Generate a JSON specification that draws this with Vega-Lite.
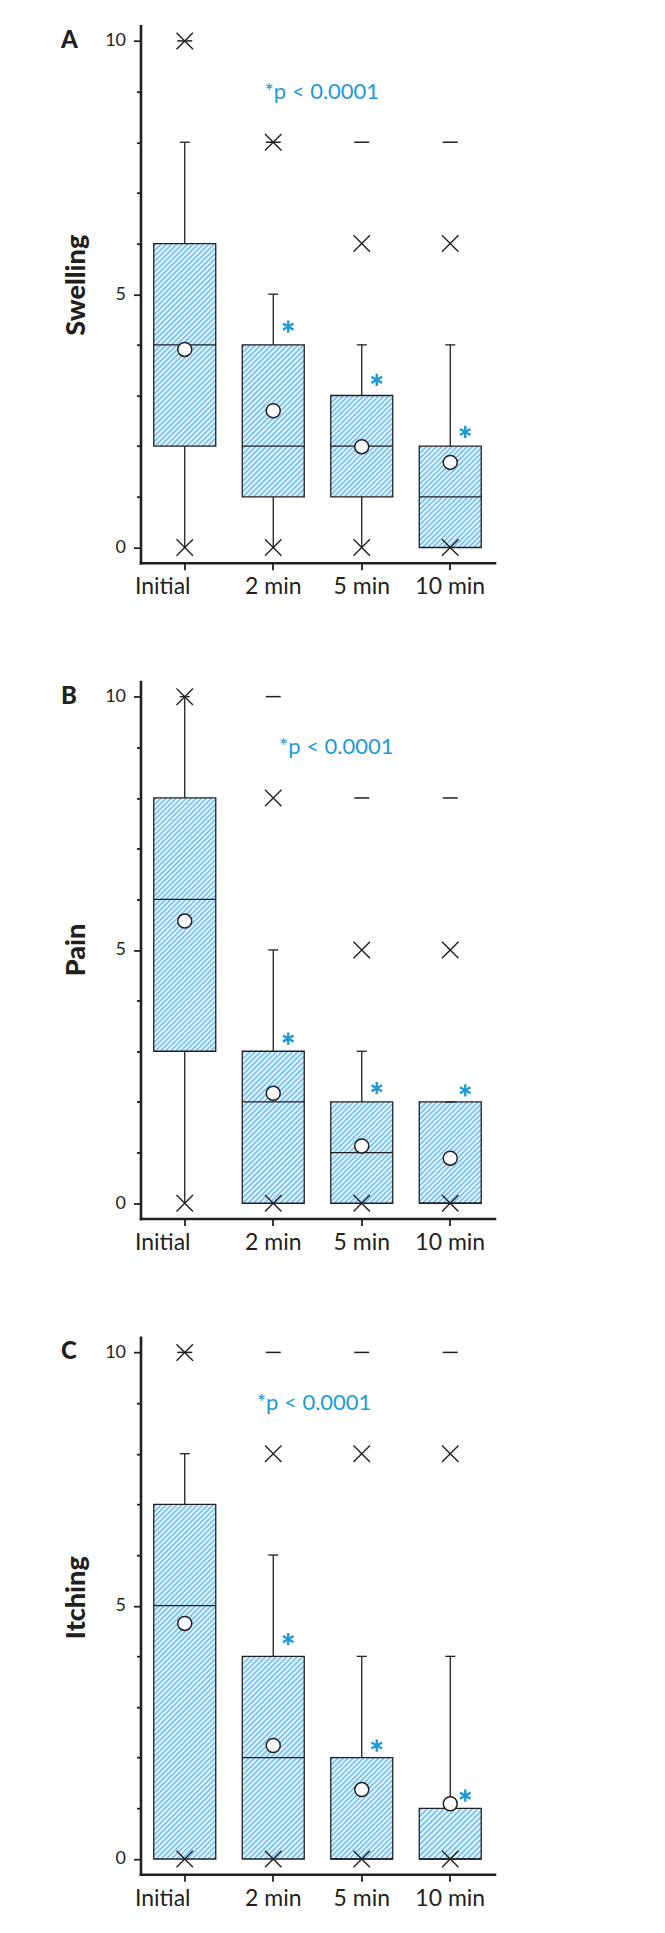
{
"background": "white",
"padding": {"left": 60.5, "top": 25.7, "right": 5, "bottom": 5},
"spacing": 118.75,
"bounds": "flush",
"config": {
 "font": "Lato",
 "view": {"stroke": null},
 "axis": {"domainColor": "#231f20", "tickColor": "#231f20", "labelColor": "#231f20", "titleColor": "#231f20", "grid": false, "domainWidth": 2.6, "tickWidth": 1.8, "labelFont": "Lato", "titleFont": "Lato", "domainCap": "square"},
 "axisX": {"tickSize": 7, "labelFontSize": 23, "labelPadding": 6, "labelAngle": 0},
 "axisY": {"labelFontSize": 18, "labelPadding": 8, "titleFontSize": 27, "titleFontWeight": 900, "titleBaseline": "alphabetic", "titleAngle": 270, "titleAlign": "center"}
},
"vconcat": [
 {
  "width": 354, "height": 537,
  "data": {"values": [
   {"time":"Initial","kind":"whisker","v":0,"v2":8},
   {"time":"2 min","kind":"whisker","v":0,"v2":5},
   {"time":"5 min","kind":"whisker","v":0,"v2":4},
   {"time":"10 min","kind":"whisker","v":0,"v2":4},
   {"time":"Initial","kind":"box","v":2,"v2":6},
   {"time":"2 min","kind":"box","v":1,"v2":4},
   {"time":"5 min","kind":"box","v":1,"v2":3},
   {"time":"10 min","kind":"box","v":0,"v2":2},
   {"time":"Initial","kind":"median","v":4},
   {"time":"2 min","kind":"median","v":2},
   {"time":"5 min","kind":"median","v":2},
   {"time":"10 min","kind":"median","v":1},
   {"time":"Initial","kind":"mean","v":3.91},
   {"time":"2 min","kind":"mean","v":2.7},
   {"time":"5 min","kind":"mean","v":1.99},
   {"time":"10 min","kind":"mean","v":1.68},
   {"time":"Initial","kind":"cap","v":8},
   {"time":"2 min","kind":"cap","v":5},
   {"time":"5 min","kind":"cap","v":4},
   {"time":"10 min","kind":"cap","v":4},
   {"time":"Initial","kind":"x","v":0},
   {"time":"Initial","kind":"x","v":10},
   {"time":"2 min","kind":"x","v":0},
   {"time":"2 min","kind":"x","v":8},
   {"time":"5 min","kind":"x","v":0},
   {"time":"5 min","kind":"x","v":6},
   {"time":"10 min","kind":"x","v":0},
   {"time":"10 min","kind":"x","v":6},
   {"time":"Initial","kind":"dash","v":10},
   {"time":"2 min","kind":"dash","v":8},
   {"time":"5 min","kind":"dash","v":8},
   {"time":"10 min","kind":"dash","v":8},
   {"time":"2 min","kind":"star","v":4.36},
   {"time":"5 min","kind":"star","v":3.31},
   {"time":"10 min","kind":"star","v":2.28},
   {"time":"2 min","kind":"ptext","v":9,"label":"*p < 0.0001"},
   {"time":"Initial","kind":"letter","v":10,"label":"A"}
  ]},
  "encoding": {
   "x": {"field": "time", "type": "nominal", "scale": {"domain": ["Initial", "2 min", "5 min", "10 min"], "paddingInner": 0, "paddingOuter": 0}, "axis": {"title": null, "labelOffset": {"condition": {"test": "datum.value === 'Initial'", "value": -22}, "value": 0}}},
   "y": {"field": "v", "type": "quantitative", "scale": {"domain": [-0.3, 10.3], "nice": false, "zero": false}, "axis": {"title": "Swelling", "titleX": -56, "titleY": 259, "values": [0,1,2,3,4,5,6,7,8,9,10], "labelExpr": "datum.value % 5 === 0 ? datum.label : ''", "tickSize": {"condition": {"test": "datum.value % 5 === 0", "value": 7}, "value": 4}}}
  },
  "layer": [
   {"transform": [{"filter": "datum.kind === 'whisker'"}], "mark": {"type": "rule", "stroke": "#231f20", "strokeWidth": 1.3}, "encoding": {"y2": {"field": "v2"}}},
   {"transform": [{"filter": "datum.kind === 'box' && datum.v2 - datum.v === 4"}], "mark": {"type": "bar", "width": 62, "stroke": "#231f20", "strokeWidth": 1.3, "fill": {"gradient": "linear", "x1": 0, "y1": 0, "x2": 0.3654, "y2": 1.1942, "stops": [{"offset":0,"color":"#fff"},{"offset":0.01,"color":"#6be"},{"offset":0.02,"color":"#fff"},{"offset":0.03,"color":"#6be"},{"offset":0.04,"color":"#fff"},{"offset":0.05,"color":"#6be"},{"offset":0.06,"color":"#fff"},{"offset":0.07,"color":"#6be"},{"offset":0.08,"color":"#fff"},{"offset":0.09,"color":"#6be"},{"offset":0.1,"color":"#fff"},{"offset":0.11,"color":"#6be"},{"offset":0.12,"color":"#fff"},{"offset":0.13,"color":"#6be"},{"offset":0.14,"color":"#fff"},{"offset":0.15,"color":"#6be"},{"offset":0.16,"color":"#fff"},{"offset":0.17,"color":"#6be"},{"offset":0.18,"color":"#fff"},{"offset":0.19,"color":"#6be"},{"offset":0.2,"color":"#fff"},{"offset":0.21,"color":"#6be"},{"offset":0.22,"color":"#fff"},{"offset":0.23,"color":"#6be"},{"offset":0.24,"color":"#fff"},{"offset":0.25,"color":"#6be"},{"offset":0.26,"color":"#fff"},{"offset":0.27,"color":"#6be"},{"offset":0.28,"color":"#fff"},{"offset":0.29,"color":"#6be"},{"offset":0.3,"color":"#fff"},{"offset":0.31,"color":"#6be"},{"offset":0.32,"color":"#fff"},{"offset":0.33,"color":"#6be"},{"offset":0.34,"color":"#fff"},{"offset":0.35,"color":"#6be"},{"offset":0.36,"color":"#fff"},{"offset":0.37,"color":"#6be"},{"offset":0.38,"color":"#fff"},{"offset":0.39,"color":"#6be"},{"offset":0.4,"color":"#fff"},{"offset":0.41,"color":"#6be"},{"offset":0.42,"color":"#fff"},{"offset":0.43,"color":"#6be"},{"offset":0.44,"color":"#fff"},{"offset":0.45,"color":"#6be"},{"offset":0.46,"color":"#fff"},{"offset":0.47,"color":"#6be"},{"offset":0.48,"color":"#fff"},{"offset":0.49,"color":"#6be"},{"offset":0.5,"color":"#fff"},{"offset":0.51,"color":"#6be"},{"offset":0.52,"color":"#fff"},{"offset":0.53,"color":"#6be"},{"offset":0.54,"color":"#fff"},{"offset":0.55,"color":"#6be"},{"offset":0.56,"color":"#fff"},{"offset":0.57,"color":"#6be"},{"offset":0.58,"color":"#fff"},{"offset":0.59,"color":"#6be"},{"offset":0.6,"color":"#fff"},{"offset":0.61,"color":"#6be"},{"offset":0.62,"color":"#fff"},{"offset":0.63,"color":"#6be"},{"offset":0.64,"color":"#fff"},{"offset":0.65,"color":"#6be"},{"offset":0.66,"color":"#fff"},{"offset":0.67,"color":"#6be"},{"offset":0.68,"color":"#fff"},{"offset":0.69,"color":"#6be"},{"offset":0.7,"color":"#fff"},{"offset":0.71,"color":"#6be"},{"offset":0.72,"color":"#fff"},{"offset":0.73,"color":"#6be"},{"offset":0.74,"color":"#fff"},{"offset":0.75,"color":"#6be"},{"offset":0.76,"color":"#fff"},{"offset":0.77,"color":"#6be"},{"offset":0.78,"color":"#fff"},{"offset":0.79,"color":"#6be"},{"offset":0.8,"color":"#fff"},{"offset":0.81,"color":"#6be"},{"offset":0.82,"color":"#fff"},{"offset":0.83,"color":"#6be"},{"offset":0.84,"color":"#fff"},{"offset":0.85,"color":"#6be"},{"offset":0.86,"color":"#fff"},{"offset":0.87,"color":"#6be"},{"offset":0.88,"color":"#fff"},{"offset":0.89,"color":"#6be"},{"offset":0.9,"color":"#fff"},{"offset":0.91,"color":"#6be"},{"offset":0.92,"color":"#fff"},{"offset":0.93,"color":"#6be"},{"offset":0.94,"color":"#fff"},{"offset":0.95,"color":"#6be"},{"offset":0.96,"color":"#fff"},{"offset":0.97,"color":"#6be"},{"offset":0.98,"color":"#fff"},{"offset":0.99,"color":"#6be"},{"offset":1,"color":"#fff"}]}}, "encoding": {"y2": {"field": "v2"}}},
   {"transform": [{"filter": "datum.kind === 'box' && datum.v2 - datum.v === 3"}], "mark": {"type": "bar", "width": 62, "stroke": "#231f20", "strokeWidth": 1.3, "fill": {"gradient": "linear", "x1": 0, "y1": 0, "x2": 0.4924, "y2": 1.2071, "stops": [{"offset":0,"color":"#fff"},{"offset":0.0125,"color":"#6be"},{"offset":0.025,"color":"#fff"},{"offset":0.0375,"color":"#6be"},{"offset":0.05,"color":"#fff"},{"offset":0.0625,"color":"#6be"},{"offset":0.075,"color":"#fff"},{"offset":0.0875,"color":"#6be"},{"offset":0.1,"color":"#fff"},{"offset":0.1125,"color":"#6be"},{"offset":0.125,"color":"#fff"},{"offset":0.1375,"color":"#6be"},{"offset":0.15,"color":"#fff"},{"offset":0.1625,"color":"#6be"},{"offset":0.175,"color":"#fff"},{"offset":0.1875,"color":"#6be"},{"offset":0.2,"color":"#fff"},{"offset":0.2125,"color":"#6be"},{"offset":0.225,"color":"#fff"},{"offset":0.2375,"color":"#6be"},{"offset":0.25,"color":"#fff"},{"offset":0.2625,"color":"#6be"},{"offset":0.275,"color":"#fff"},{"offset":0.2875,"color":"#6be"},{"offset":0.3,"color":"#fff"},{"offset":0.3125,"color":"#6be"},{"offset":0.325,"color":"#fff"},{"offset":0.3375,"color":"#6be"},{"offset":0.35,"color":"#fff"},{"offset":0.3625,"color":"#6be"},{"offset":0.375,"color":"#fff"},{"offset":0.3875,"color":"#6be"},{"offset":0.4,"color":"#fff"},{"offset":0.4125,"color":"#6be"},{"offset":0.425,"color":"#fff"},{"offset":0.4375,"color":"#6be"},{"offset":0.45,"color":"#fff"},{"offset":0.4625,"color":"#6be"},{"offset":0.475,"color":"#fff"},{"offset":0.4875,"color":"#6be"},{"offset":0.5,"color":"#fff"},{"offset":0.5125,"color":"#6be"},{"offset":0.525,"color":"#fff"},{"offset":0.5375,"color":"#6be"},{"offset":0.55,"color":"#fff"},{"offset":0.5625,"color":"#6be"},{"offset":0.575,"color":"#fff"},{"offset":0.5875,"color":"#6be"},{"offset":0.6,"color":"#fff"},{"offset":0.6125,"color":"#6be"},{"offset":0.625,"color":"#fff"},{"offset":0.6375,"color":"#6be"},{"offset":0.65,"color":"#fff"},{"offset":0.6625,"color":"#6be"},{"offset":0.675,"color":"#fff"},{"offset":0.6875,"color":"#6be"},{"offset":0.7,"color":"#fff"},{"offset":0.7125,"color":"#6be"},{"offset":0.725,"color":"#fff"},{"offset":0.7375,"color":"#6be"},{"offset":0.75,"color":"#fff"},{"offset":0.7625,"color":"#6be"},{"offset":0.775,"color":"#fff"},{"offset":0.7875,"color":"#6be"},{"offset":0.8,"color":"#fff"},{"offset":0.8125,"color":"#6be"},{"offset":0.825,"color":"#fff"},{"offset":0.8375,"color":"#6be"},{"offset":0.85,"color":"#fff"},{"offset":0.8625,"color":"#6be"},{"offset":0.875,"color":"#fff"},{"offset":0.8875,"color":"#6be"},{"offset":0.9,"color":"#fff"},{"offset":0.9125,"color":"#6be"},{"offset":0.925,"color":"#fff"},{"offset":0.9375,"color":"#6be"},{"offset":0.95,"color":"#fff"},{"offset":0.9625,"color":"#6be"},{"offset":0.975,"color":"#fff"},{"offset":0.9875,"color":"#6be"},{"offset":1,"color":"#fff"}]}}, "encoding": {"y2": {"field": "v2"}}},
   {"transform": [{"filter": "datum.kind === 'box' && datum.v2 - datum.v === 2"}], "mark": {"type": "bar", "width": 62, "stroke": "#231f20", "strokeWidth": 1.3, "fill": {"gradient": "linear", "x1": 0, "y1": 0, "x2": 0.7177, "y2": 1.1728, "stops": [{"offset":0,"color":"#fff"},{"offset":0.015625,"color":"#6be"},{"offset":0.03125,"color":"#fff"},{"offset":0.046875,"color":"#6be"},{"offset":0.0625,"color":"#fff"},{"offset":0.078125,"color":"#6be"},{"offset":0.09375,"color":"#fff"},{"offset":0.109375,"color":"#6be"},{"offset":0.125,"color":"#fff"},{"offset":0.140625,"color":"#6be"},{"offset":0.15625,"color":"#fff"},{"offset":0.171875,"color":"#6be"},{"offset":0.1875,"color":"#fff"},{"offset":0.203125,"color":"#6be"},{"offset":0.21875,"color":"#fff"},{"offset":0.234375,"color":"#6be"},{"offset":0.25,"color":"#fff"},{"offset":0.265625,"color":"#6be"},{"offset":0.28125,"color":"#fff"},{"offset":0.296875,"color":"#6be"},{"offset":0.3125,"color":"#fff"},{"offset":0.328125,"color":"#6be"},{"offset":0.34375,"color":"#fff"},{"offset":0.359375,"color":"#6be"},{"offset":0.375,"color":"#fff"},{"offset":0.390625,"color":"#6be"},{"offset":0.40625,"color":"#fff"},{"offset":0.421875,"color":"#6be"},{"offset":0.4375,"color":"#fff"},{"offset":0.453125,"color":"#6be"},{"offset":0.46875,"color":"#fff"},{"offset":0.484375,"color":"#6be"},{"offset":0.5,"color":"#fff"},{"offset":0.515625,"color":"#6be"},{"offset":0.53125,"color":"#fff"},{"offset":0.546875,"color":"#6be"},{"offset":0.5625,"color":"#fff"},{"offset":0.578125,"color":"#6be"},{"offset":0.59375,"color":"#fff"},{"offset":0.609375,"color":"#6be"},{"offset":0.625,"color":"#fff"},{"offset":0.640625,"color":"#6be"},{"offset":0.65625,"color":"#fff"},{"offset":0.671875,"color":"#6be"},{"offset":0.6875,"color":"#fff"},{"offset":0.703125,"color":"#6be"},{"offset":0.71875,"color":"#fff"},{"offset":0.734375,"color":"#6be"},{"offset":0.75,"color":"#fff"},{"offset":0.765625,"color":"#6be"},{"offset":0.78125,"color":"#fff"},{"offset":0.796875,"color":"#6be"},{"offset":0.8125,"color":"#fff"},{"offset":0.828125,"color":"#6be"},{"offset":0.84375,"color":"#fff"},{"offset":0.859375,"color":"#6be"},{"offset":0.875,"color":"#fff"},{"offset":0.890625,"color":"#6be"},{"offset":0.90625,"color":"#fff"},{"offset":0.921875,"color":"#6be"},{"offset":0.9375,"color":"#fff"},{"offset":0.953125,"color":"#6be"},{"offset":0.96875,"color":"#fff"},{"offset":0.984375,"color":"#6be"},{"offset":1,"color":"#fff"}]}}, "encoding": {"y2": {"field": "v2"}}},
   {"transform": [{"filter": "datum.kind === 'median'"}], "mark": {"type": "point", "shape": "M-1,0L1,0", "size": 3844, "filled": false, "stroke": "#231f20", "strokeWidth": 1.3, "opacity": 1}},
   {"transform": [{"filter": "datum.kind === 'cap'"}], "mark": {"type": "point", "shape": "M-1,0L1,0", "size": 100, "filled": false, "stroke": "#231f20", "strokeWidth": 1.3, "opacity": 1}},
   {"transform": [{"filter": "datum.kind === 'mean'"}], "mark": {"type": "point", "shape": "circle", "size": 196, "filled": true, "fill": "#fff", "stroke": "#231f20", "strokeWidth": 1.5, "opacity": 1}},
   {"transform": [{"filter": "datum.kind === 'x'"}], "mark": {"type": "point", "shape": "M-1,-1L1,1M-1,1L1,-1", "size": 272, "filled": false, "stroke": "#231f20", "strokeWidth": 1.4, "opacity": 1}},
   {"transform": [{"filter": "datum.kind === 'dash'"}], "mark": {"type": "point", "shape": "M-1,0L1,0", "size": 225, "filled": false, "stroke": "#231f20", "strokeWidth": 1.5, "opacity": 1}},
   {"transform": [{"filter": "datum.kind === 'star'"}], "mark": {"type": "point", "shape": "M0,-1L0,1M-0.87,-0.5L0.87,0.5M-0.87,0.5L0.87,-0.5", "size": 150, "filled": false, "stroke": "#1e9bd7", "strokeWidth": 2.4, "xOffset": 15, "opacity": 1}},
   {"transform": [{"filter": "datum.kind === 'ptext'"}], "mark": {"type": "text", "align": "left", "baseline": "middle", "dx": -8.75, "fontSize": 22, "color": "#1e9bd7"}, "encoding": {"text": {"field": "label"}}},
   {"transform": [{"filter": "datum.kind === 'letter'"}], "mark": {"type": "text", "align": "left", "baseline": "middle", "dx": -123.75, "fontSize": 24, "fontWeight": 900, "color": "#231f20"}, "encoding": {"text": {"field": "label"}}}
  ]
 },
 {
  "width": 354, "height": 537,
  "data": {"values": [
   {"time":"Initial","kind":"whisker","v":0,"v2":10},
   {"time":"2 min","kind":"whisker","v":0,"v2":5},
   {"time":"5 min","kind":"whisker","v":0,"v2":3},
   {"time":"10 min","kind":"whisker","v":0,"v2":2},
   {"time":"Initial","kind":"box","v":3,"v2":8},
   {"time":"2 min","kind":"box","v":0,"v2":3},
   {"time":"5 min","kind":"box","v":0,"v2":2},
   {"time":"10 min","kind":"box","v":0,"v2":2},
   {"time":"Initial","kind":"median","v":6},
   {"time":"2 min","kind":"median","v":2},
   {"time":"5 min","kind":"median","v":1},
   {"time":"10 min","kind":"median","v":0},
   {"time":"Initial","kind":"mean","v":5.57},
   {"time":"2 min","kind":"mean","v":2.17},
   {"time":"5 min","kind":"mean","v":1.13},
   {"time":"10 min","kind":"mean","v":0.89},
   {"time":"Initial","kind":"cap","v":10},
   {"time":"2 min","kind":"cap","v":5},
   {"time":"5 min","kind":"cap","v":3},
   {"time":"10 min","kind":"cap","v":2},
   {"time":"Initial","kind":"x","v":0},
   {"time":"Initial","kind":"x","v":10},
   {"time":"2 min","kind":"x","v":0},
   {"time":"2 min","kind":"x","v":8},
   {"time":"5 min","kind":"x","v":0},
   {"time":"5 min","kind":"x","v":5},
   {"time":"10 min","kind":"x","v":0},
   {"time":"10 min","kind":"x","v":5},
   {"time":"2 min","kind":"dash","v":10},
   {"time":"5 min","kind":"dash","v":8},
   {"time":"10 min","kind":"dash","v":8},
   {"time":"2 min","kind":"star","v":3.25},
   {"time":"5 min","kind":"star","v":2.27},
   {"time":"10 min","kind":"star","v":2.23},
   {"time":"2 min","kind":"ptext","v":9,"label":"*p < 0.0001"},
   {"time":"Initial","kind":"letter","v":10,"label":"B"}
  ]},
  "encoding": {
   "x": {"field": "time", "type": "nominal", "scale": {"domain": ["Initial", "2 min", "5 min", "10 min"], "paddingInner": 0, "paddingOuter": 0}, "axis": {"title": null, "labelOffset": {"condition": {"test": "datum.value === 'Initial'", "value": -22}, "value": 0}}},
   "y": {"field": "v", "type": "quantitative", "scale": {"domain": [-0.3, 10.3], "nice": false, "zero": false}, "axis": {"title": "Pain", "titleX": -56, "titleY": 268, "values": [0,1,2,3,4,5,6,7,8,9,10], "labelExpr": "datum.value % 5 === 0 ? datum.label : ''", "tickSize": {"condition": {"test": "datum.value % 5 === 0", "value": 7}, "value": 4}}}
  },
  "layer": [
   {"transform": [{"filter": "datum.kind === 'whisker'"}], "mark": {"type": "rule", "stroke": "#231f20", "strokeWidth": 1.3}, "encoding": {"y2": {"field": "v2"}}},
   {"transform": [{"filter": "datum.kind === 'box' && datum.v2 - datum.v === 5"}], "mark": {"type": "bar", "width": 62, "stroke": "#231f20", "strokeWidth": 1.3, "fill": {"gradient": "linear", "x1": 0, "y1": 0, "x2": 0.2875, "y2": 1.1744, "stops": [{"offset":0,"color":"#fff"},{"offset":0.008,"color":"#6be"},{"offset":0.016,"color":"#fff"},{"offset":0.024,"color":"#6be"},{"offset":0.032,"color":"#fff"},{"offset":0.04,"color":"#6be"},{"offset":0.048,"color":"#fff"},{"offset":0.056,"color":"#6be"},{"offset":0.064,"color":"#fff"},{"offset":0.072,"color":"#6be"},{"offset":0.08,"color":"#fff"},{"offset":0.088,"color":"#6be"},{"offset":0.096,"color":"#fff"},{"offset":0.104,"color":"#6be"},{"offset":0.112,"color":"#fff"},{"offset":0.12,"color":"#6be"},{"offset":0.128,"color":"#fff"},{"offset":0.136,"color":"#6be"},{"offset":0.144,"color":"#fff"},{"offset":0.152,"color":"#6be"},{"offset":0.16,"color":"#fff"},{"offset":0.168,"color":"#6be"},{"offset":0.176,"color":"#fff"},{"offset":0.184,"color":"#6be"},{"offset":0.192,"color":"#fff"},{"offset":0.2,"color":"#6be"},{"offset":0.208,"color":"#fff"},{"offset":0.216,"color":"#6be"},{"offset":0.224,"color":"#fff"},{"offset":0.232,"color":"#6be"},{"offset":0.24,"color":"#fff"},{"offset":0.248,"color":"#6be"},{"offset":0.256,"color":"#fff"},{"offset":0.264,"color":"#6be"},{"offset":0.272,"color":"#fff"},{"offset":0.28,"color":"#6be"},{"offset":0.288,"color":"#fff"},{"offset":0.296,"color":"#6be"},{"offset":0.304,"color":"#fff"},{"offset":0.312,"color":"#6be"},{"offset":0.32,"color":"#fff"},{"offset":0.328,"color":"#6be"},{"offset":0.336,"color":"#fff"},{"offset":0.344,"color":"#6be"},{"offset":0.352,"color":"#fff"},{"offset":0.36,"color":"#6be"},{"offset":0.368,"color":"#fff"},{"offset":0.376,"color":"#6be"},{"offset":0.384,"color":"#fff"},{"offset":0.392,"color":"#6be"},{"offset":0.4,"color":"#fff"},{"offset":0.408,"color":"#6be"},{"offset":0.416,"color":"#fff"},{"offset":0.424,"color":"#6be"},{"offset":0.432,"color":"#fff"},{"offset":0.44,"color":"#6be"},{"offset":0.448,"color":"#fff"},{"offset":0.456,"color":"#6be"},{"offset":0.464,"color":"#fff"},{"offset":0.472,"color":"#6be"},{"offset":0.48,"color":"#fff"},{"offset":0.488,"color":"#6be"},{"offset":0.496,"color":"#fff"},{"offset":0.504,"color":"#6be"},{"offset":0.512,"color":"#fff"},{"offset":0.52,"color":"#6be"},{"offset":0.528,"color":"#fff"},{"offset":0.536,"color":"#6be"},{"offset":0.544,"color":"#fff"},{"offset":0.552,"color":"#6be"},{"offset":0.56,"color":"#fff"},{"offset":0.568,"color":"#6be"},{"offset":0.576,"color":"#fff"},{"offset":0.584,"color":"#6be"},{"offset":0.592,"color":"#fff"},{"offset":0.6,"color":"#6be"},{"offset":0.608,"color":"#fff"},{"offset":0.616,"color":"#6be"},{"offset":0.624,"color":"#fff"},{"offset":0.632,"color":"#6be"},{"offset":0.64,"color":"#fff"},{"offset":0.648,"color":"#6be"},{"offset":0.656,"color":"#fff"},{"offset":0.664,"color":"#6be"},{"offset":0.672,"color":"#fff"},{"offset":0.68,"color":"#6be"},{"offset":0.688,"color":"#fff"},{"offset":0.696,"color":"#6be"},{"offset":0.704,"color":"#fff"},{"offset":0.712,"color":"#6be"},{"offset":0.72,"color":"#fff"},{"offset":0.728,"color":"#6be"},{"offset":0.736,"color":"#fff"},{"offset":0.744,"color":"#6be"},{"offset":0.752,"color":"#fff"},{"offset":0.76,"color":"#6be"},{"offset":0.768,"color":"#fff"},{"offset":0.776,"color":"#6be"},{"offset":0.784,"color":"#fff"},{"offset":0.792,"color":"#6be"},{"offset":0.8,"color":"#fff"},{"offset":0.808,"color":"#6be"},{"offset":0.816,"color":"#fff"},{"offset":0.824,"color":"#6be"},{"offset":0.832,"color":"#fff"},{"offset":0.84,"color":"#6be"},{"offset":0.848,"color":"#fff"},{"offset":0.856,"color":"#6be"},{"offset":0.864,"color":"#fff"},{"offset":0.872,"color":"#6be"},{"offset":0.88,"color":"#fff"},{"offset":0.888,"color":"#6be"},{"offset":0.896,"color":"#fff"},{"offset":0.904,"color":"#6be"},{"offset":0.912,"color":"#fff"},{"offset":0.92,"color":"#6be"},{"offset":0.928,"color":"#fff"},{"offset":0.936,"color":"#6be"},{"offset":0.944,"color":"#fff"},{"offset":0.952,"color":"#6be"},{"offset":0.96,"color":"#fff"},{"offset":0.968,"color":"#6be"},{"offset":0.976,"color":"#fff"},{"offset":0.984,"color":"#6be"},{"offset":0.992,"color":"#fff"},{"offset":1,"color":"#6be"}]}}, "encoding": {"y2": {"field": "v2"}}},
   {"transform": [{"filter": "datum.kind === 'box' && datum.v2 - datum.v === 3"}], "mark": {"type": "bar", "width": 62, "stroke": "#231f20", "strokeWidth": 1.3, "fill": {"gradient": "linear", "x1": 0, "y1": 0, "x2": 0.4924, "y2": 1.2071, "stops": [{"offset":0,"color":"#fff"},{"offset":0.0125,"color":"#6be"},{"offset":0.025,"color":"#fff"},{"offset":0.0375,"color":"#6be"},{"offset":0.05,"color":"#fff"},{"offset":0.0625,"color":"#6be"},{"offset":0.075,"color":"#fff"},{"offset":0.0875,"color":"#6be"},{"offset":0.1,"color":"#fff"},{"offset":0.1125,"color":"#6be"},{"offset":0.125,"color":"#fff"},{"offset":0.1375,"color":"#6be"},{"offset":0.15,"color":"#fff"},{"offset":0.1625,"color":"#6be"},{"offset":0.175,"color":"#fff"},{"offset":0.1875,"color":"#6be"},{"offset":0.2,"color":"#fff"},{"offset":0.2125,"color":"#6be"},{"offset":0.225,"color":"#fff"},{"offset":0.2375,"color":"#6be"},{"offset":0.25,"color":"#fff"},{"offset":0.2625,"color":"#6be"},{"offset":0.275,"color":"#fff"},{"offset":0.2875,"color":"#6be"},{"offset":0.3,"color":"#fff"},{"offset":0.3125,"color":"#6be"},{"offset":0.325,"color":"#fff"},{"offset":0.3375,"color":"#6be"},{"offset":0.35,"color":"#fff"},{"offset":0.3625,"color":"#6be"},{"offset":0.375,"color":"#fff"},{"offset":0.3875,"color":"#6be"},{"offset":0.4,"color":"#fff"},{"offset":0.4125,"color":"#6be"},{"offset":0.425,"color":"#fff"},{"offset":0.4375,"color":"#6be"},{"offset":0.45,"color":"#fff"},{"offset":0.4625,"color":"#6be"},{"offset":0.475,"color":"#fff"},{"offset":0.4875,"color":"#6be"},{"offset":0.5,"color":"#fff"},{"offset":0.5125,"color":"#6be"},{"offset":0.525,"color":"#fff"},{"offset":0.5375,"color":"#6be"},{"offset":0.55,"color":"#fff"},{"offset":0.5625,"color":"#6be"},{"offset":0.575,"color":"#fff"},{"offset":0.5875,"color":"#6be"},{"offset":0.6,"color":"#fff"},{"offset":0.6125,"color":"#6be"},{"offset":0.625,"color":"#fff"},{"offset":0.6375,"color":"#6be"},{"offset":0.65,"color":"#fff"},{"offset":0.6625,"color":"#6be"},{"offset":0.675,"color":"#fff"},{"offset":0.6875,"color":"#6be"},{"offset":0.7,"color":"#fff"},{"offset":0.7125,"color":"#6be"},{"offset":0.725,"color":"#fff"},{"offset":0.7375,"color":"#6be"},{"offset":0.75,"color":"#fff"},{"offset":0.7625,"color":"#6be"},{"offset":0.775,"color":"#fff"},{"offset":0.7875,"color":"#6be"},{"offset":0.8,"color":"#fff"},{"offset":0.8125,"color":"#6be"},{"offset":0.825,"color":"#fff"},{"offset":0.8375,"color":"#6be"},{"offset":0.85,"color":"#fff"},{"offset":0.8625,"color":"#6be"},{"offset":0.875,"color":"#fff"},{"offset":0.8875,"color":"#6be"},{"offset":0.9,"color":"#fff"},{"offset":0.9125,"color":"#6be"},{"offset":0.925,"color":"#fff"},{"offset":0.9375,"color":"#6be"},{"offset":0.95,"color":"#fff"},{"offset":0.9625,"color":"#6be"},{"offset":0.975,"color":"#fff"},{"offset":0.9875,"color":"#6be"},{"offset":1,"color":"#fff"}]}}, "encoding": {"y2": {"field": "v2"}}},
   {"transform": [{"filter": "datum.kind === 'box' && datum.v2 - datum.v === 2"}], "mark": {"type": "bar", "width": 62, "stroke": "#231f20", "strokeWidth": 1.3, "fill": {"gradient": "linear", "x1": 0, "y1": 0, "x2": 0.7177, "y2": 1.1728, "stops": [{"offset":0,"color":"#fff"},{"offset":0.015625,"color":"#6be"},{"offset":0.03125,"color":"#fff"},{"offset":0.046875,"color":"#6be"},{"offset":0.0625,"color":"#fff"},{"offset":0.078125,"color":"#6be"},{"offset":0.09375,"color":"#fff"},{"offset":0.109375,"color":"#6be"},{"offset":0.125,"color":"#fff"},{"offset":0.140625,"color":"#6be"},{"offset":0.15625,"color":"#fff"},{"offset":0.171875,"color":"#6be"},{"offset":0.1875,"color":"#fff"},{"offset":0.203125,"color":"#6be"},{"offset":0.21875,"color":"#fff"},{"offset":0.234375,"color":"#6be"},{"offset":0.25,"color":"#fff"},{"offset":0.265625,"color":"#6be"},{"offset":0.28125,"color":"#fff"},{"offset":0.296875,"color":"#6be"},{"offset":0.3125,"color":"#fff"},{"offset":0.328125,"color":"#6be"},{"offset":0.34375,"color":"#fff"},{"offset":0.359375,"color":"#6be"},{"offset":0.375,"color":"#fff"},{"offset":0.390625,"color":"#6be"},{"offset":0.40625,"color":"#fff"},{"offset":0.421875,"color":"#6be"},{"offset":0.4375,"color":"#fff"},{"offset":0.453125,"color":"#6be"},{"offset":0.46875,"color":"#fff"},{"offset":0.484375,"color":"#6be"},{"offset":0.5,"color":"#fff"},{"offset":0.515625,"color":"#6be"},{"offset":0.53125,"color":"#fff"},{"offset":0.546875,"color":"#6be"},{"offset":0.5625,"color":"#fff"},{"offset":0.578125,"color":"#6be"},{"offset":0.59375,"color":"#fff"},{"offset":0.609375,"color":"#6be"},{"offset":0.625,"color":"#fff"},{"offset":0.640625,"color":"#6be"},{"offset":0.65625,"color":"#fff"},{"offset":0.671875,"color":"#6be"},{"offset":0.6875,"color":"#fff"},{"offset":0.703125,"color":"#6be"},{"offset":0.71875,"color":"#fff"},{"offset":0.734375,"color":"#6be"},{"offset":0.75,"color":"#fff"},{"offset":0.765625,"color":"#6be"},{"offset":0.78125,"color":"#fff"},{"offset":0.796875,"color":"#6be"},{"offset":0.8125,"color":"#fff"},{"offset":0.828125,"color":"#6be"},{"offset":0.84375,"color":"#fff"},{"offset":0.859375,"color":"#6be"},{"offset":0.875,"color":"#fff"},{"offset":0.890625,"color":"#6be"},{"offset":0.90625,"color":"#fff"},{"offset":0.921875,"color":"#6be"},{"offset":0.9375,"color":"#fff"},{"offset":0.953125,"color":"#6be"},{"offset":0.96875,"color":"#fff"},{"offset":0.984375,"color":"#6be"},{"offset":1,"color":"#fff"}]}}, "encoding": {"y2": {"field": "v2"}}},
   {"transform": [{"filter": "datum.kind === 'median'"}], "mark": {"type": "point", "shape": "M-1,0L1,0", "size": 3844, "filled": false, "stroke": "#231f20", "strokeWidth": 1.3, "opacity": 1}},
   {"transform": [{"filter": "datum.kind === 'cap'"}], "mark": {"type": "point", "shape": "M-1,0L1,0", "size": 100, "filled": false, "stroke": "#231f20", "strokeWidth": 1.3, "opacity": 1}},
   {"transform": [{"filter": "datum.kind === 'mean'"}], "mark": {"type": "point", "shape": "circle", "size": 196, "filled": true, "fill": "#fff", "stroke": "#231f20", "strokeWidth": 1.5, "opacity": 1}},
   {"transform": [{"filter": "datum.kind === 'x'"}], "mark": {"type": "point", "shape": "M-1,-1L1,1M-1,1L1,-1", "size": 272, "filled": false, "stroke": "#231f20", "strokeWidth": 1.4, "opacity": 1}},
   {"transform": [{"filter": "datum.kind === 'dash'"}], "mark": {"type": "point", "shape": "M-1,0L1,0", "size": 225, "filled": false, "stroke": "#231f20", "strokeWidth": 1.5, "opacity": 1}},
   {"transform": [{"filter": "datum.kind === 'star'"}], "mark": {"type": "point", "shape": "M0,-1L0,1M-0.87,-0.5L0.87,0.5M-0.87,0.5L0.87,-0.5", "size": 150, "filled": false, "stroke": "#1e9bd7", "strokeWidth": 2.4, "xOffset": 15, "opacity": 1}},
   {"transform": [{"filter": "datum.kind === 'ptext'"}], "mark": {"type": "text", "align": "left", "baseline": "middle", "dx": 5.6, "fontSize": 22, "color": "#1e9bd7"}, "encoding": {"text": {"field": "label"}}},
   {"transform": [{"filter": "datum.kind === 'letter'"}], "mark": {"type": "text", "align": "left", "baseline": "middle", "dx": -123.75, "fontSize": 24, "fontWeight": 900, "color": "#231f20"}, "encoding": {"text": {"field": "label"}}}
  ]
 },
 {
  "width": 354, "height": 537,
  "data": {"values": [
   {"time":"Initial","kind":"whisker","v":0,"v2":8},
   {"time":"2 min","kind":"whisker","v":0,"v2":6},
   {"time":"5 min","kind":"whisker","v":0,"v2":4},
   {"time":"10 min","kind":"whisker","v":0,"v2":4},
   {"time":"Initial","kind":"box","v":0,"v2":7},
   {"time":"2 min","kind":"box","v":0,"v2":4},
   {"time":"5 min","kind":"box","v":0,"v2":2},
   {"time":"10 min","kind":"box","v":0,"v2":1},
   {"time":"Initial","kind":"median","v":5},
   {"time":"2 min","kind":"median","v":2},
   {"time":"5 min","kind":"median","v":0},
   {"time":"10 min","kind":"median","v":0},
   {"time":"Initial","kind":"mean","v":4.65},
   {"time":"2 min","kind":"mean","v":2.24},
   {"time":"5 min","kind":"mean","v":1.37},
   {"time":"10 min","kind":"mean","v":1.09},
   {"time":"Initial","kind":"cap","v":8},
   {"time":"2 min","kind":"cap","v":6},
   {"time":"5 min","kind":"cap","v":4},
   {"time":"10 min","kind":"cap","v":4},
   {"time":"Initial","kind":"x","v":0},
   {"time":"Initial","kind":"x","v":10},
   {"time":"2 min","kind":"x","v":0},
   {"time":"2 min","kind":"x","v":8},
   {"time":"5 min","kind":"x","v":0},
   {"time":"5 min","kind":"x","v":8},
   {"time":"10 min","kind":"x","v":0},
   {"time":"10 min","kind":"x","v":8},
   {"time":"Initial","kind":"dash","v":10},
   {"time":"2 min","kind":"dash","v":10},
   {"time":"5 min","kind":"dash","v":10},
   {"time":"10 min","kind":"dash","v":10},
   {"time":"2 min","kind":"star","v":4.34},
   {"time":"5 min","kind":"star","v":2.24},
   {"time":"10 min","kind":"star","v":1.25},
   {"time":"2 min","kind":"ptext","v":9,"label":"*p < 0.0001"},
   {"time":"Initial","kind":"letter","v":10,"label":"C"}
  ]},
  "encoding": {
   "x": {"field": "time", "type": "nominal", "scale": {"domain": ["Initial", "2 min", "5 min", "10 min"], "paddingInner": 0, "paddingOuter": 0}, "axis": {"title": null, "labelOffset": {"condition": {"test": "datum.value === 'Initial'", "value": -22}, "value": 0}}},
   "y": {"field": "v", "type": "quantitative", "scale": {"domain": [-0.3, 10.3], "nice": false, "zero": false}, "axis": {"title": "Itching", "titleX": -56, "titleY": 260, "values": [0,1,2,3,4,5,6,7,8,9,10], "labelExpr": "datum.value % 5 === 0 ? datum.label : ''", "tickSize": {"condition": {"test": "datum.value % 5 === 0", "value": 7}, "value": 4}}}
  },
  "layer": [
   {"transform": [{"filter": "datum.kind === 'whisker'"}], "mark": {"type": "rule", "stroke": "#231f20", "strokeWidth": 1.3}, "encoding": {"y2": {"field": "v2"}}},
   {"transform": [{"filter": "datum.kind === 'box' && datum.v2 - datum.v === 7"}], "mark": {"type": "bar", "width": 62, "stroke": "#231f20", "strokeWidth": 1.3, "fill": {"gradient": "linear", "x1": 0, "y1": 0, "x2": 0.1993, "y2": 1.14, "stops": [{"offset":0,"color":"#fff"},{"offset":0.00625,"color":"#6be"},{"offset":0.0125,"color":"#fff"},{"offset":0.01875,"color":"#6be"},{"offset":0.025,"color":"#fff"},{"offset":0.03125,"color":"#6be"},{"offset":0.0375,"color":"#fff"},{"offset":0.04375,"color":"#6be"},{"offset":0.05,"color":"#fff"},{"offset":0.05625,"color":"#6be"},{"offset":0.0625,"color":"#fff"},{"offset":0.06875,"color":"#6be"},{"offset":0.075,"color":"#fff"},{"offset":0.08125,"color":"#6be"},{"offset":0.0875,"color":"#fff"},{"offset":0.09375,"color":"#6be"},{"offset":0.1,"color":"#fff"},{"offset":0.10625,"color":"#6be"},{"offset":0.1125,"color":"#fff"},{"offset":0.11875,"color":"#6be"},{"offset":0.125,"color":"#fff"},{"offset":0.13125,"color":"#6be"},{"offset":0.1375,"color":"#fff"},{"offset":0.14375,"color":"#6be"},{"offset":0.15,"color":"#fff"},{"offset":0.15625,"color":"#6be"},{"offset":0.1625,"color":"#fff"},{"offset":0.16875,"color":"#6be"},{"offset":0.175,"color":"#fff"},{"offset":0.18125,"color":"#6be"},{"offset":0.1875,"color":"#fff"},{"offset":0.19375,"color":"#6be"},{"offset":0.2,"color":"#fff"},{"offset":0.20625,"color":"#6be"},{"offset":0.2125,"color":"#fff"},{"offset":0.21875,"color":"#6be"},{"offset":0.225,"color":"#fff"},{"offset":0.23125,"color":"#6be"},{"offset":0.2375,"color":"#fff"},{"offset":0.24375,"color":"#6be"},{"offset":0.25,"color":"#fff"},{"offset":0.25625,"color":"#6be"},{"offset":0.2625,"color":"#fff"},{"offset":0.26875,"color":"#6be"},{"offset":0.275,"color":"#fff"},{"offset":0.28125,"color":"#6be"},{"offset":0.2875,"color":"#fff"},{"offset":0.29375,"color":"#6be"},{"offset":0.3,"color":"#fff"},{"offset":0.30625,"color":"#6be"},{"offset":0.3125,"color":"#fff"},{"offset":0.31875,"color":"#6be"},{"offset":0.325,"color":"#fff"},{"offset":0.33125,"color":"#6be"},{"offset":0.3375,"color":"#fff"},{"offset":0.34375,"color":"#6be"},{"offset":0.35,"color":"#fff"},{"offset":0.35625,"color":"#6be"},{"offset":0.3625,"color":"#fff"},{"offset":0.36875,"color":"#6be"},{"offset":0.375,"color":"#fff"},{"offset":0.38125,"color":"#6be"},{"offset":0.3875,"color":"#fff"},{"offset":0.39375,"color":"#6be"},{"offset":0.4,"color":"#fff"},{"offset":0.40625,"color":"#6be"},{"offset":0.4125,"color":"#fff"},{"offset":0.41875,"color":"#6be"},{"offset":0.425,"color":"#fff"},{"offset":0.43125,"color":"#6be"},{"offset":0.4375,"color":"#fff"},{"offset":0.44375,"color":"#6be"},{"offset":0.45,"color":"#fff"},{"offset":0.45625,"color":"#6be"},{"offset":0.4625,"color":"#fff"},{"offset":0.46875,"color":"#6be"},{"offset":0.475,"color":"#fff"},{"offset":0.48125,"color":"#6be"},{"offset":0.4875,"color":"#fff"},{"offset":0.49375,"color":"#6be"},{"offset":0.5,"color":"#fff"},{"offset":0.50625,"color":"#6be"},{"offset":0.5125,"color":"#fff"},{"offset":0.51875,"color":"#6be"},{"offset":0.525,"color":"#fff"},{"offset":0.53125,"color":"#6be"},{"offset":0.5375,"color":"#fff"},{"offset":0.54375,"color":"#6be"},{"offset":0.55,"color":"#fff"},{"offset":0.55625,"color":"#6be"},{"offset":0.5625,"color":"#fff"},{"offset":0.56875,"color":"#6be"},{"offset":0.575,"color":"#fff"},{"offset":0.58125,"color":"#6be"},{"offset":0.5875,"color":"#fff"},{"offset":0.59375,"color":"#6be"},{"offset":0.6,"color":"#fff"},{"offset":0.60625,"color":"#6be"},{"offset":0.6125,"color":"#fff"},{"offset":0.61875,"color":"#6be"},{"offset":0.625,"color":"#fff"},{"offset":0.63125,"color":"#6be"},{"offset":0.6375,"color":"#fff"},{"offset":0.64375,"color":"#6be"},{"offset":0.65,"color":"#fff"},{"offset":0.65625,"color":"#6be"},{"offset":0.6625,"color":"#fff"},{"offset":0.66875,"color":"#6be"},{"offset":0.675,"color":"#fff"},{"offset":0.68125,"color":"#6be"},{"offset":0.6875,"color":"#fff"},{"offset":0.69375,"color":"#6be"},{"offset":0.7,"color":"#fff"},{"offset":0.70625,"color":"#6be"},{"offset":0.7125,"color":"#fff"},{"offset":0.71875,"color":"#6be"},{"offset":0.725,"color":"#fff"},{"offset":0.73125,"color":"#6be"},{"offset":0.7375,"color":"#fff"},{"offset":0.74375,"color":"#6be"},{"offset":0.75,"color":"#fff"},{"offset":0.75625,"color":"#6be"},{"offset":0.7625,"color":"#fff"},{"offset":0.76875,"color":"#6be"},{"offset":0.775,"color":"#fff"},{"offset":0.78125,"color":"#6be"},{"offset":0.7875,"color":"#fff"},{"offset":0.79375,"color":"#6be"},{"offset":0.8,"color":"#fff"},{"offset":0.80625,"color":"#6be"},{"offset":0.8125,"color":"#fff"},{"offset":0.81875,"color":"#6be"},{"offset":0.825,"color":"#fff"},{"offset":0.83125,"color":"#6be"},{"offset":0.8375,"color":"#fff"},{"offset":0.84375,"color":"#6be"},{"offset":0.85,"color":"#fff"},{"offset":0.85625,"color":"#6be"},{"offset":0.8625,"color":"#fff"},{"offset":0.86875,"color":"#6be"},{"offset":0.875,"color":"#fff"},{"offset":0.88125,"color":"#6be"},{"offset":0.8875,"color":"#fff"},{"offset":0.89375,"color":"#6be"},{"offset":0.9,"color":"#fff"},{"offset":0.90625,"color":"#6be"},{"offset":0.9125,"color":"#fff"},{"offset":0.91875,"color":"#6be"},{"offset":0.925,"color":"#fff"},{"offset":0.93125,"color":"#6be"},{"offset":0.9375,"color":"#fff"},{"offset":0.94375,"color":"#6be"},{"offset":0.95,"color":"#fff"},{"offset":0.95625,"color":"#6be"},{"offset":0.9625,"color":"#fff"},{"offset":0.96875,"color":"#6be"},{"offset":0.975,"color":"#fff"},{"offset":0.98125,"color":"#6be"},{"offset":0.9875,"color":"#fff"},{"offset":0.99375,"color":"#6be"},{"offset":1,"color":"#fff"}]}}, "encoding": {"y2": {"field": "v2"}}},
   {"transform": [{"filter": "datum.kind === 'box' && datum.v2 - datum.v === 4"}], "mark": {"type": "bar", "width": 62, "stroke": "#231f20", "strokeWidth": 1.3, "fill": {"gradient": "linear", "x1": 0, "y1": 0, "x2": 0.3654, "y2": 1.1942, "stops": [{"offset":0,"color":"#fff"},{"offset":0.01,"color":"#6be"},{"offset":0.02,"color":"#fff"},{"offset":0.03,"color":"#6be"},{"offset":0.04,"color":"#fff"},{"offset":0.05,"color":"#6be"},{"offset":0.06,"color":"#fff"},{"offset":0.07,"color":"#6be"},{"offset":0.08,"color":"#fff"},{"offset":0.09,"color":"#6be"},{"offset":0.1,"color":"#fff"},{"offset":0.11,"color":"#6be"},{"offset":0.12,"color":"#fff"},{"offset":0.13,"color":"#6be"},{"offset":0.14,"color":"#fff"},{"offset":0.15,"color":"#6be"},{"offset":0.16,"color":"#fff"},{"offset":0.17,"color":"#6be"},{"offset":0.18,"color":"#fff"},{"offset":0.19,"color":"#6be"},{"offset":0.2,"color":"#fff"},{"offset":0.21,"color":"#6be"},{"offset":0.22,"color":"#fff"},{"offset":0.23,"color":"#6be"},{"offset":0.24,"color":"#fff"},{"offset":0.25,"color":"#6be"},{"offset":0.26,"color":"#fff"},{"offset":0.27,"color":"#6be"},{"offset":0.28,"color":"#fff"},{"offset":0.29,"color":"#6be"},{"offset":0.3,"color":"#fff"},{"offset":0.31,"color":"#6be"},{"offset":0.32,"color":"#fff"},{"offset":0.33,"color":"#6be"},{"offset":0.34,"color":"#fff"},{"offset":0.35,"color":"#6be"},{"offset":0.36,"color":"#fff"},{"offset":0.37,"color":"#6be"},{"offset":0.38,"color":"#fff"},{"offset":0.39,"color":"#6be"},{"offset":0.4,"color":"#fff"},{"offset":0.41,"color":"#6be"},{"offset":0.42,"color":"#fff"},{"offset":0.43,"color":"#6be"},{"offset":0.44,"color":"#fff"},{"offset":0.45,"color":"#6be"},{"offset":0.46,"color":"#fff"},{"offset":0.47,"color":"#6be"},{"offset":0.48,"color":"#fff"},{"offset":0.49,"color":"#6be"},{"offset":0.5,"color":"#fff"},{"offset":0.51,"color":"#6be"},{"offset":0.52,"color":"#fff"},{"offset":0.53,"color":"#6be"},{"offset":0.54,"color":"#fff"},{"offset":0.55,"color":"#6be"},{"offset":0.56,"color":"#fff"},{"offset":0.57,"color":"#6be"},{"offset":0.58,"color":"#fff"},{"offset":0.59,"color":"#6be"},{"offset":0.6,"color":"#fff"},{"offset":0.61,"color":"#6be"},{"offset":0.62,"color":"#fff"},{"offset":0.63,"color":"#6be"},{"offset":0.64,"color":"#fff"},{"offset":0.65,"color":"#6be"},{"offset":0.66,"color":"#fff"},{"offset":0.67,"color":"#6be"},{"offset":0.68,"color":"#fff"},{"offset":0.69,"color":"#6be"},{"offset":0.7,"color":"#fff"},{"offset":0.71,"color":"#6be"},{"offset":0.72,"color":"#fff"},{"offset":0.73,"color":"#6be"},{"offset":0.74,"color":"#fff"},{"offset":0.75,"color":"#6be"},{"offset":0.76,"color":"#fff"},{"offset":0.77,"color":"#6be"},{"offset":0.78,"color":"#fff"},{"offset":0.79,"color":"#6be"},{"offset":0.8,"color":"#fff"},{"offset":0.81,"color":"#6be"},{"offset":0.82,"color":"#fff"},{"offset":0.83,"color":"#6be"},{"offset":0.84,"color":"#fff"},{"offset":0.85,"color":"#6be"},{"offset":0.86,"color":"#fff"},{"offset":0.87,"color":"#6be"},{"offset":0.88,"color":"#fff"},{"offset":0.89,"color":"#6be"},{"offset":0.9,"color":"#fff"},{"offset":0.91,"color":"#6be"},{"offset":0.92,"color":"#fff"},{"offset":0.93,"color":"#6be"},{"offset":0.94,"color":"#fff"},{"offset":0.95,"color":"#6be"},{"offset":0.96,"color":"#fff"},{"offset":0.97,"color":"#6be"},{"offset":0.98,"color":"#fff"},{"offset":0.99,"color":"#6be"},{"offset":1,"color":"#fff"}]}}, "encoding": {"y2": {"field": "v2"}}},
   {"transform": [{"filter": "datum.kind === 'box' && datum.v2 - datum.v === 2"}], "mark": {"type": "bar", "width": 62, "stroke": "#231f20", "strokeWidth": 1.3, "fill": {"gradient": "linear", "x1": 0, "y1": 0, "x2": 0.7177, "y2": 1.1728, "stops": [{"offset":0,"color":"#fff"},{"offset":0.015625,"color":"#6be"},{"offset":0.03125,"color":"#fff"},{"offset":0.046875,"color":"#6be"},{"offset":0.0625,"color":"#fff"},{"offset":0.078125,"color":"#6be"},{"offset":0.09375,"color":"#fff"},{"offset":0.109375,"color":"#6be"},{"offset":0.125,"color":"#fff"},{"offset":0.140625,"color":"#6be"},{"offset":0.15625,"color":"#fff"},{"offset":0.171875,"color":"#6be"},{"offset":0.1875,"color":"#fff"},{"offset":0.203125,"color":"#6be"},{"offset":0.21875,"color":"#fff"},{"offset":0.234375,"color":"#6be"},{"offset":0.25,"color":"#fff"},{"offset":0.265625,"color":"#6be"},{"offset":0.28125,"color":"#fff"},{"offset":0.296875,"color":"#6be"},{"offset":0.3125,"color":"#fff"},{"offset":0.328125,"color":"#6be"},{"offset":0.34375,"color":"#fff"},{"offset":0.359375,"color":"#6be"},{"offset":0.375,"color":"#fff"},{"offset":0.390625,"color":"#6be"},{"offset":0.40625,"color":"#fff"},{"offset":0.421875,"color":"#6be"},{"offset":0.4375,"color":"#fff"},{"offset":0.453125,"color":"#6be"},{"offset":0.46875,"color":"#fff"},{"offset":0.484375,"color":"#6be"},{"offset":0.5,"color":"#fff"},{"offset":0.515625,"color":"#6be"},{"offset":0.53125,"color":"#fff"},{"offset":0.546875,"color":"#6be"},{"offset":0.5625,"color":"#fff"},{"offset":0.578125,"color":"#6be"},{"offset":0.59375,"color":"#fff"},{"offset":0.609375,"color":"#6be"},{"offset":0.625,"color":"#fff"},{"offset":0.640625,"color":"#6be"},{"offset":0.65625,"color":"#fff"},{"offset":0.671875,"color":"#6be"},{"offset":0.6875,"color":"#fff"},{"offset":0.703125,"color":"#6be"},{"offset":0.71875,"color":"#fff"},{"offset":0.734375,"color":"#6be"},{"offset":0.75,"color":"#fff"},{"offset":0.765625,"color":"#6be"},{"offset":0.78125,"color":"#fff"},{"offset":0.796875,"color":"#6be"},{"offset":0.8125,"color":"#fff"},{"offset":0.828125,"color":"#6be"},{"offset":0.84375,"color":"#fff"},{"offset":0.859375,"color":"#6be"},{"offset":0.875,"color":"#fff"},{"offset":0.890625,"color":"#6be"},{"offset":0.90625,"color":"#fff"},{"offset":0.921875,"color":"#6be"},{"offset":0.9375,"color":"#fff"},{"offset":0.953125,"color":"#6be"},{"offset":0.96875,"color":"#fff"},{"offset":0.984375,"color":"#6be"},{"offset":1,"color":"#fff"}]}}, "encoding": {"y2": {"field": "v2"}}},
   {"transform": [{"filter": "datum.kind === 'box' && datum.v2 - datum.v === 1"}], "mark": {"type": "bar", "width": 62, "stroke": "#231f20", "strokeWidth": 1.3, "fill": {"gradient": "linear", "x1": 0, "y1": 0, "x2": 1.0896, "y2": 0.8903, "stops": [{"offset":0,"color":"#fff"},{"offset":0.025,"color":"#6be"},{"offset":0.05,"color":"#fff"},{"offset":0.075,"color":"#6be"},{"offset":0.1,"color":"#fff"},{"offset":0.125,"color":"#6be"},{"offset":0.15,"color":"#fff"},{"offset":0.175,"color":"#6be"},{"offset":0.2,"color":"#fff"},{"offset":0.225,"color":"#6be"},{"offset":0.25,"color":"#fff"},{"offset":0.275,"color":"#6be"},{"offset":0.3,"color":"#fff"},{"offset":0.325,"color":"#6be"},{"offset":0.35,"color":"#fff"},{"offset":0.375,"color":"#6be"},{"offset":0.4,"color":"#fff"},{"offset":0.425,"color":"#6be"},{"offset":0.45,"color":"#fff"},{"offset":0.475,"color":"#6be"},{"offset":0.5,"color":"#fff"},{"offset":0.525,"color":"#6be"},{"offset":0.55,"color":"#fff"},{"offset":0.575,"color":"#6be"},{"offset":0.6,"color":"#fff"},{"offset":0.625,"color":"#6be"},{"offset":0.65,"color":"#fff"},{"offset":0.675,"color":"#6be"},{"offset":0.7,"color":"#fff"},{"offset":0.725,"color":"#6be"},{"offset":0.75,"color":"#fff"},{"offset":0.775,"color":"#6be"},{"offset":0.8,"color":"#fff"},{"offset":0.825,"color":"#6be"},{"offset":0.85,"color":"#fff"},{"offset":0.875,"color":"#6be"},{"offset":0.9,"color":"#fff"},{"offset":0.925,"color":"#6be"},{"offset":0.95,"color":"#fff"},{"offset":0.975,"color":"#6be"},{"offset":1,"color":"#fff"}]}}, "encoding": {"y2": {"field": "v2"}}},
   {"transform": [{"filter": "datum.kind === 'median'"}], "mark": {"type": "point", "shape": "M-1,0L1,0", "size": 3844, "filled": false, "stroke": "#231f20", "strokeWidth": 1.3, "opacity": 1}},
   {"transform": [{"filter": "datum.kind === 'cap'"}], "mark": {"type": "point", "shape": "M-1,0L1,0", "size": 100, "filled": false, "stroke": "#231f20", "strokeWidth": 1.3, "opacity": 1}},
   {"transform": [{"filter": "datum.kind === 'mean'"}], "mark": {"type": "point", "shape": "circle", "size": 196, "filled": true, "fill": "#fff", "stroke": "#231f20", "strokeWidth": 1.5, "opacity": 1}},
   {"transform": [{"filter": "datum.kind === 'x'"}], "mark": {"type": "point", "shape": "M-1,-1L1,1M-1,1L1,-1", "size": 272, "filled": false, "stroke": "#231f20", "strokeWidth": 1.4, "opacity": 1}},
   {"transform": [{"filter": "datum.kind === 'dash'"}], "mark": {"type": "point", "shape": "M-1,0L1,0", "size": 225, "filled": false, "stroke": "#231f20", "strokeWidth": 1.5, "opacity": 1}},
   {"transform": [{"filter": "datum.kind === 'star'"}], "mark": {"type": "point", "shape": "M0,-1L0,1M-0.87,-0.5L0.87,0.5M-0.87,0.5L0.87,-0.5", "size": 150, "filled": false, "stroke": "#1e9bd7", "strokeWidth": 2.4, "xOffset": 15, "opacity": 1}},
   {"transform": [{"filter": "datum.kind === 'ptext'"}], "mark": {"type": "text", "align": "left", "baseline": "middle", "dx": -16.5, "fontSize": 22, "color": "#1e9bd7"}, "encoding": {"text": {"field": "label"}}},
   {"transform": [{"filter": "datum.kind === 'letter'"}], "mark": {"type": "text", "align": "left", "baseline": "middle", "dx": -123.75, "fontSize": 24, "fontWeight": 900, "color": "#231f20"}, "encoding": {"text": {"field": "label"}}}
  ]
 }
]
}
